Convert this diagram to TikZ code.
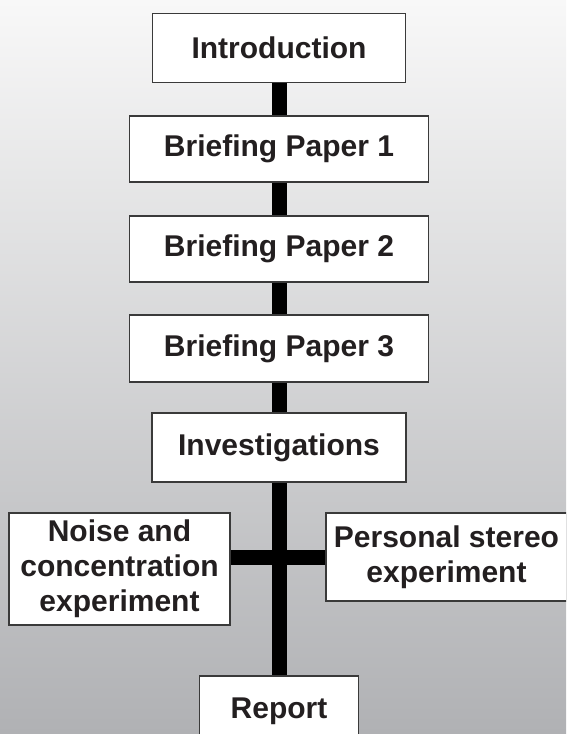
\documentclass[tikz,border=0pt]{standalone}
\usepackage{fontspec}
\setmainfont{Liberation Sans}
\definecolor{bgtop}{RGB}{248,248,248}
\definecolor{bgbot}{RGB}{176,177,180}
\definecolor{boxline}{RGB}{58,58,58}
\definecolor{txt}{RGB}{35,31,32}
\tikzset{
  stagebox/.style={draw=boxline, line width=1.1pt, fill=white, inner sep=0pt, align=center,
    text=txt, font=\fontsize{30}{35}\selectfont\bfseries},
  linkbar/.style={line width=15pt, black, line cap=butt}
}
\begin{document}
\begin{tikzpicture}[x=1pt,y=-1pt]
\useasboundingbox (0,0) rectangle (566,734);
\shade[top color=bgtop, bottom color=bgbot] (0,0) rectangle (566,734);
\begin{scope}
\clip (0,0) rectangle (566,734);
\node[stagebox, minimum width=253pt, minimum height=69pt] (intro) at (279,48) {Introduction};
\node[stagebox, minimum width=299pt, minimum height=66pt] (bp1) at (279,149) {Briefing Paper 1};
\node[stagebox, minimum width=299pt, minimum height=66pt] (bp2) at (279,249) {Briefing Paper 2};
\node[stagebox, minimum width=299pt, minimum height=67pt] (bp3) at (279,348.5) {Briefing Paper 3};
\node[stagebox, minimum width=254pt, minimum height=69pt] (inv) at (279,447.5) {Investigations};
\node[stagebox, minimum width=221pt, minimum height=112pt] (noise) at (119.5,569) {Noise and\\concentration\\experiment};
\node[stagebox, minimum width=241pt, minimum height=88pt] (ps) at (446.5,557) {Personal stereo\\experiment};
\node[stagebox, minimum width=159pt, minimum height=64pt, text depth=0pt] (report) at (279,708) {Report};
\draw[linkbar] ([xshift=0.5pt]intro.south) -- ([xshift=0.5pt]bp1.north);
\draw[linkbar] ([xshift=0.5pt]bp1.south) -- ([xshift=0.5pt]bp2.north);
\draw[linkbar] ([xshift=0.5pt]bp2.south) -- ([xshift=0.5pt]bp3.north);
\draw[linkbar] ([xshift=0.5pt]bp3.south) -- ([xshift=0.5pt]inv.north);
\draw[linkbar] ([xshift=0.5pt]inv.south) -- ([xshift=0.5pt]report.north);
\draw[linkbar] (ps.west) -- (ps.west -| noise.east);
\end{scope}
\end{tikzpicture}
\end{document}
